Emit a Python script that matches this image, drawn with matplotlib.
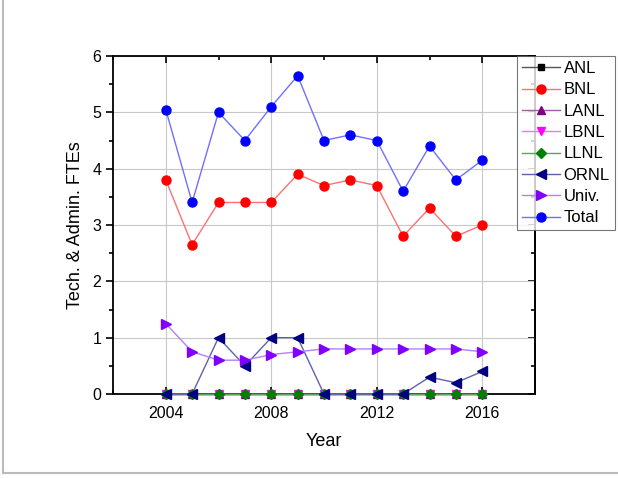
import numpy as np
import matplotlib.pyplot as plt
from matplotlib.lines import Line2D
from matplotlib.ticker import MultipleLocator

years = np.arange(2004, 2017)
anl = [0] * 13
bnl = [3.8, 2.65, 3.4, 3.4, 3.4, 3.9, 3.7, 3.8, 3.7, 2.8, 3.3, 2.8, 3.0]
lanl = [0] * 13
lbnl = [0] * 13
llnl = [0] * 13
ornl = [0, 0, 1.0, 0.5, 1.0, 1.0, 0, 0, 0, 0, 0.3, 0.2, 0.4]
univ = [1.25, 0.75, 0.6, 0.6, 0.7, 0.75, 0.8, 0.8, 0.8, 0.8, 0.8, 0.8, 0.75]
total = [5.05, 3.4, 5.0, 4.5, 5.1, 5.65, 4.5, 4.6, 4.5, 3.6, 4.4, 3.8, 4.15]

# name, values, marker colour, line colour, marker, marker size
series = [
    ("ANL", anl, "black", "#555555", "s", 5),
    ("BNL", bnl, "red", "#ff7070", "o", 6.5),
    ("LANL", lanl, "#800080", "#a060a0", "^", 5.5),
    ("LBNL", lbnl, "#ff00ff", "#ff70ff", "v", 5.5),
    ("LLNL", llnl, "#008000", "#60a060", "D", 5.2),
    ("ORNL", ornl, "#000080", "#6060b0", "<", 7),
    ("Univ.", univ, "#8000ff", "#b080ff", ">", 6.5),
    ("Total", total, "#0000ff", "#7070ff", "o", 6.5),
]

plt.rcParams['font.family'] = ['Liberation Sans', 'DejaVu Sans']

fig = plt.figure(figsize=(6.18, 4.78), dpi=100)
ax = fig.add_axes([113 / 618, 1 - 394 / 478, 422 / 618, 338 / 478])

for name, vals, mcol, lcol, mk, ms in series:
    ax.plot(years, vals, color=lcol, marker=mk, markersize=ms, lw=1.0,
            markerfacecolor=mcol, markeredgecolor=mcol,
            label=name, clip_on=False, zorder=3)

ax.set_xlim(2002, 2018)
ax.set_ylim(0, 6)
ax.set_xticks([2004, 2008, 2012, 2016])
ax.xaxis.set_minor_locator(MultipleLocator(2))
ax.yaxis.set_major_locator(MultipleLocator(1))
ax.yaxis.set_minor_locator(MultipleLocator(0.5))
ax.grid(True, which='major', color='#c8c8c8', lw=0.8)
ax.tick_params(axis='x', which='both', direction='in', top=True,
               labelsize=11.5, width=1.2, pad=9)
ax.tick_params(axis='y', which='both', direction='out', labelsize=11.5, width=1.2)
ax.tick_params(which='major', length=5)
ax.tick_params(which='minor', length=3)

# right side ticks point inward
ry = ax.secondary_yaxis('right')
ry.yaxis.set_major_locator(MultipleLocator(1))
ry.yaxis.set_minor_locator(MultipleLocator(0.5))
ry.tick_params(which='both', direction='in', labelright=False, width=1.2)
ry.tick_params(which='major', length=5)
ry.tick_params(which='minor', length=3)
ry.spines['right'].set_linewidth(1.3)

for sp in ax.spines.values():
    sp.set_linewidth(1.3)
ax.set_xlabel("Year", fontsize=13, labelpad=8)
ax.set_ylabel("Tech. & Admin. FTEs", fontsize=13, labelpad=6)

leg = ax.legend(loc='upper left', bbox_to_anchor=((517 - 113) / 422, 1.0),
                fontsize=12, frameon=True, fancybox=False, edgecolor='#555555',
                handlelength=2.3, handletextpad=0.2, borderpad=0.3,
                labelspacing=0.38, borderaxespad=0)
leg.get_frame().set_linewidth(0.8)
leg.set_zorder(5)

# frame lines along the left and bottom of the figure
fig.add_artist(Line2D([3 / 618, 3 / 618], [1 - 473 / 478, 1.0],
                      color='#bbbbbb', lw=1.5, transform=fig.transFigure))
fig.add_artist(Line2D([3 / 618, 1.0], [1 - 473 / 478, 1 - 473 / 478],
                      color='#bbbbbb', lw=1.5, transform=fig.transFigure))

fig.savefig("out.png", dpi=100)
